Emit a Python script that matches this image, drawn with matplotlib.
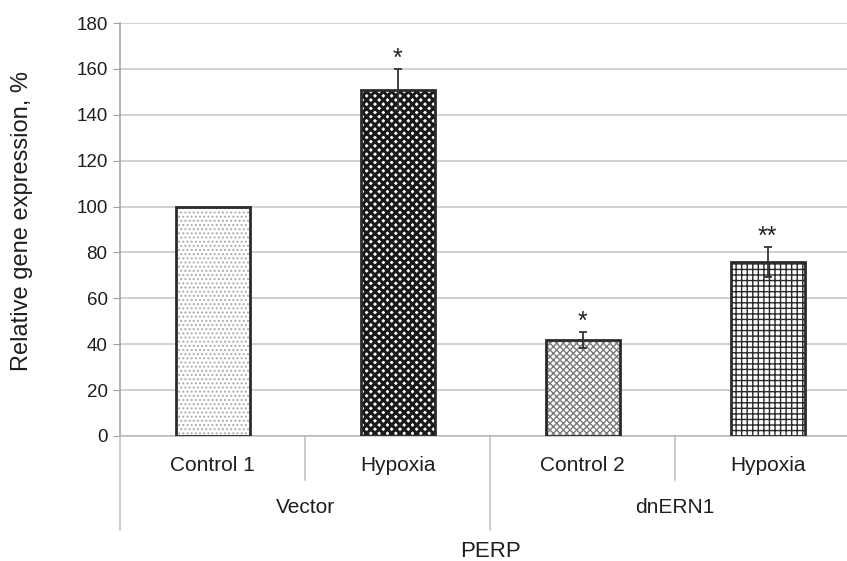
import numpy as np
import matplotlib
matplotlib.use('Agg')
import matplotlib.pyplot as plt

plt.rcParams['font.family'] = ['Liberation Sans', 'DejaVu Sans']

# data
conditions = ['Control 1', 'Hypoxia', 'Control 2', 'Hypoxia']
groups = ['Vector', 'dnERN1']
values = [100, 151, 42, 76]
errors = [0, 9, 3.5, 6.5]
marks = ['', '*', '*', '**']
gene = 'PERP'

# bar styling (hatch, hatch colour, hatch line width)
hatches = ['....', 'xxxx', 'xxxxx', '+++']
hatch_colors = ['#a8a8a8', '#1a1a1a', '#7a7a7a', '#2a2a2a']
hatch_lws = [0.9, 2.2, 1.0, 1.0]

fig = plt.figure(figsize=(8.47, 5.61), dpi=100)
ax = fig.add_axes([120 / 847, 125 / 561, 740 / 847, 413 / 561])

x = np.arange(len(values))
w = 0.4
for i in range(len(values)):
    with plt.rc_context({'hatch.linewidth': hatch_lws[i]}):
        ax.bar(x[i], values[i], width=w, color='white', edgecolor=hatch_colors[i],
               hatch=hatches[i], linewidth=0, zorder=2)
    ax.bar(x[i], values[i], width=w, color='none', edgecolor='#2b2b2b',
           linewidth=2, zorder=3)
    if errors[i] > 0:
        ax.errorbar(x[i], values[i], yerr=errors[i], fmt='none', ecolor='#333333',
                    elinewidth=1.3, capsize=3, capthick=1.3, zorder=4)
    if marks[i]:
        ax.annotate(marks[i], (x[i], values[i] + errors[i]), xytext=(0, 2),
                    textcoords='offset points', ha='center', va='baseline',
                    fontsize=18, color='#222222')

ax.set_xlim(-0.5, len(values) - 0.5)
ax.set_ylim(0, 180)
ax.set_yticks(np.arange(0, 181, 20))
ax.tick_params(axis='y', labelsize=13.5, length=5, color='#a0a0a0',
               labelcolor='#1e1e1e', pad=4)
ax.set_xticks([])
ax.grid(axis='y', color='#c4c4c4', linewidth=1.1, zorder=0)
ax.set_axisbelow(True)
for s in ['top', 'right']:
    ax.spines[s].set_visible(False)
ax.spines['left'].set_color('#a0a0a0')
ax.spines['bottom'].set_color('#b8b8b8')
ax.spines['left'].set_linewidth(1.1)
ax.spines['bottom'].set_linewidth(1.1)

ax.set_ylabel('Relative gene expression, %', fontsize=17, color='#1e1e1e')
ax.yaxis.set_label_coords(-0.117, 0.52)

# two-level category axis
trans = ax.get_xaxis_transform()
line_kw = dict(color='#bdbdbd', linewidth=1.1, transform=trans, clip_on=False)
for xb in [0.5, 2.5]:
    ax.plot([xb, xb], [0, -0.107], **line_kw)
for xb in [-0.5, 1.5]:
    ax.plot([xb, xb], [0, -0.228], **line_kw)
for i, lab in enumerate(conditions):
    ax.text(x[i], -0.072, lab, transform=trans, ha='center', va='center',
            fontsize=15, color='#1e1e1e')
for j, g in enumerate(groups):
    ax.text(2 * j + 0.5, -0.172, g, transform=trans, ha='center', va='center',
            fontsize=15, color='#1e1e1e')
ax.text(1.5, -0.28, gene, transform=trans, ha='center', va='center',
        fontsize=16, color='#1e1e1e')

fig.savefig('out.png', dpi=100)
